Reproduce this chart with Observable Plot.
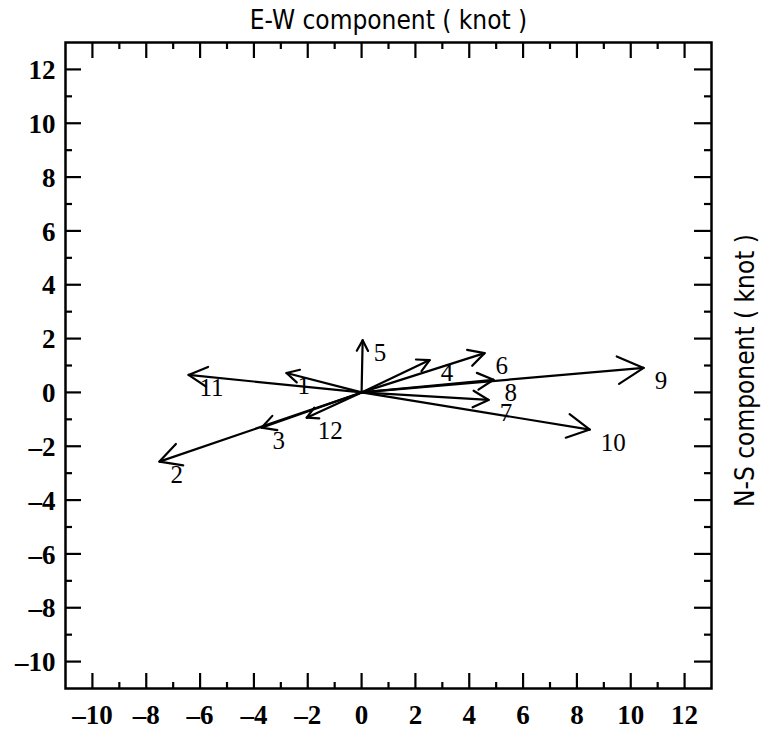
<!DOCTYPE html>
<html>
<head>
<meta charset="utf-8">
<script src="https://cdn.jsdelivr.net/npm/d3@7"></script>
<script src="https://cdn.jsdelivr.net/npm/@observablehq/plot@0.6"></script>
<style>
  body { margin: 0; background: #fff; }
  #chart svg { display: block; }
</style>
</head>
<body>
<div id="chart"></div>
<script>
// ---- data (knots) ----
const vectorLabels = ["1", "2", "3", "4", "5", "6", "7", "8", "9", "10", "11", "12"];
const ewComponent  = [-2.79, -7.51, -3.72, 2.53, 0.04, 4.57, 4.72, 4.90, 10.48, 8.48, -6.43, -2.04];
const nsComponent  = [ 0.72, -2.57, -1.31, 1.20, 1.94, 1.46, -0.28, 0.47, 0.91, -1.38, 0.65, -0.94];

const xTickLabels = [-10, -8, -6, -4, -2, 0, 2, 4, 6, 8, 10, 12];
const yTickLabels = [-10, -8, -6, -4, -2, 0, 2, 4, 6, 8, 10, 12];
const minorTicks  = [-9, -7, -5, -3, -1, 1, 3, 5, 7, 9, 11];

const xTitle = "E-W component ( knot )";
const yTitle = "N-S component ( knot )";

// ---- layout / style ----
const W = 764, H = 731;
const mL = 65, mR = 53, mT = 42, mB = 43;
const fw = W - mL - mR, fh = H - mT - mB;
const numFont = "'Liberation Serif', 'DejaVu Serif', serif";
const titleFont = "'DejaVu Sans Condensed', 'DejaVu Sans', sans-serif";

const vectors = vectorLabels.map((label, i) => ({label, u: ewComponent[i], v: nsComponent[i]}));

// arrowhead wings (computed from each vector, open V head)
const headAngle = 28 * Math.PI / 180;
const wings = [];
for (const d of vectors) {
  const L = Math.hypot(d.u, d.v);
  const h = 0.3 + 0.075 * L;
  const bx = -d.u / L, by = -d.v / L;
  for (const s of [1, -1]) {
    const c = Math.cos(s * headAngle), sn = Math.sin(s * headAngle);
    wings.push({x1: d.u, y1: d.v, x2: d.u + h * (bx * c - by * sn), y2: d.v + h * (bx * sn + by * c)});
  }
}

const fmt = d => String(d).replace("-", "\u2013");

const plot = Plot.plot({
  width: W,
  height: H,
  marginLeft: mL,
  marginRight: mR,
  marginTop: mT,
  marginBottom: mB,
  x: {domain: [-11, 13], axis: null},
  y: {domain: [-11, 13], axis: null},
  style: {background: "#fff", color: "#000", overflow: "visible"},
  marks: [
    // frame
    Plot.frame({stroke: "#000", strokeWidth: 2.5}),
    // bottom ticks
    Plot.tickX(xTickLabels, {x: d => d, insetTop: fh - 15, stroke: "#000", strokeWidth: 2.2}),
    Plot.tickX(minorTicks, {x: d => d, insetTop: fh - 6, stroke: "#000", strokeWidth: 2.2}),
    // top ticks
    Plot.tickX(xTickLabels, {x: d => d, insetBottom: fh - 16, stroke: "#000", strokeWidth: 2.2}),
    Plot.tickX(minorTicks, {x: d => d, insetBottom: fh - 7, stroke: "#000", strokeWidth: 2.2}),
    // left ticks
    Plot.tickY(yTickLabels, {y: d => d, insetRight: fw - 16, stroke: "#000", strokeWidth: 2.2}),
    Plot.tickY(minorTicks, {y: d => d, insetRight: fw - 7, stroke: "#000", strokeWidth: 2.2}),
    // right ticks
    Plot.tickY(yTickLabels, {y: d => d, insetLeft: fw - 17, stroke: "#000", strokeWidth: 2.2}),
    Plot.tickY(minorTicks, {y: d => d, insetLeft: fw - 7, stroke: "#000", strokeWidth: 2.2}),
    // tick labels
    Plot.text(xTickLabels, {x: d => d, frameAnchor: "bottom", lineAnchor: "middle", dy: 27, text: fmt,
      fontFamily: numFont, fontWeight: "bold", fontSize: 27, fill: "#000"}),
    Plot.text(yTickLabels, {y: d => d, frameAnchor: "left", lineAnchor: "middle", dx: -10, dy: 1, textAnchor: "end", text: fmt,
      fontFamily: numFont, fontWeight: "bold", fontSize: 27, fill: "#000"}),
    // axis titles
    Plot.text([xTitle], {frameAnchor: "top", lineAnchor: "middle", dy: -22, text: d => d,
      fontFamily: titleFont, fontSize: 26, fill: "#000"}),
    Plot.text([yTitle], {frameAnchor: "right", textAnchor: "middle", lineAnchor: "middle", dx: 34, dy: 5, rotate: -90, text: d => d,
      fontFamily: titleFont, fontSize: 26, fill: "#000"}),
    // vector shafts
    Plot.link(vectors, {x1: 0, y1: 0, x2: "u", y2: "v", stroke: "#000", strokeWidth: 2.2}),
    // arrowheads
    Plot.link(wings, {x1: "x1", y1: "y1", x2: "x2", y2: "y2", stroke: "#000", strokeWidth: 2.2, strokeLinecap: "round"}),
    // vector labels
    Plot.text(vectors, {x: "u", y: "v", text: "label", textAnchor: "start", dx: 11, dy: 13,
      fontFamily: numFont, fontSize: 25, fill: "#000"})
  ]
});

document.getElementById("chart").appendChild(plot);
</script>
</body>
</html>
